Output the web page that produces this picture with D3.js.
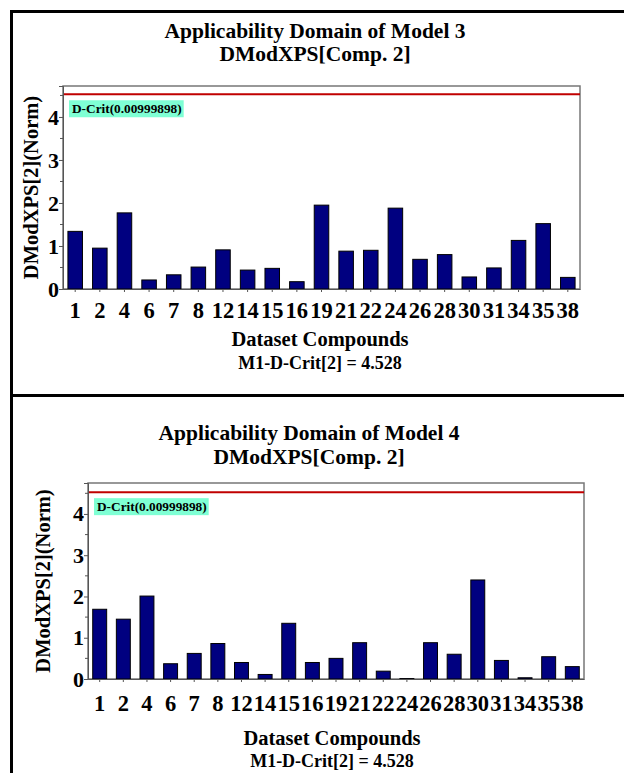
<!DOCTYPE html>
<html><head><meta charset="utf-8">
<script src="https://cdn.jsdelivr.net/npm/d3@7"></script>
<style>body{margin:0;background:#fff}svg{display:block}</style>
</head><body>
<svg id="c" width="624" height="773"></svg>
<script>
const categories = ["1","2","4","6","7","8","12","14","15","16","19","21","22","24","26","28","30","31","34","35","38"];
const model3Values = [1.34,0.95,1.77,0.21,0.33,0.51,0.91,0.44,0.48,0.17,1.95,0.88,0.90,1.88,0.69,0.80,0.28,0.49,1.13,1.52,0.27];
const model4Values = [1.69,1.45,2.01,0.37,0.62,0.86,0.40,0.11,1.35,0.40,0.50,0.88,0.19,0.01,0.88,0.60,2.40,0.45,0.03,0.54,0.30];
const yTicks = [0,1,2,3,4];
const dCrit = 4.528;
const titles = [["Applicability Domain of Model 3","DModXPS[Comp. 2]"],["Applicability Domain of Model 4","DModXPS[Comp. 2]"]];
const critLabel = "D-Crit(0.00999898)";
const xTitle = "Dataset Compounds";
const yTitle = "DModXPS[2](Norm)";
const footer = "M1-D-Crit[2] = 4.528";

const svg = d3.select("#c");
const FONT = "'Liberation Serif','Times New Roman',serif";

// frame
svg.append("line").attr("x1",11).attr("x2",624).attr("y1",11.5).attr("y2",11.5).attr("stroke","#000").attr("stroke-width",3);
svg.append("line").attr("x1",11.5).attr("x2",11.5).attr("y1",10).attr("y2",773).attr("stroke","#000").attr("stroke-width",3);
svg.append("line").attr("x1",11).attr("x2",624).attr("y1",395.5).attr("y2",395.5).attr("stroke","#000").attr("stroke-width",3);

function panel(p){
  const g = svg.append("g");
  g.append("text").attr("x",p.cx).attr("y",p.t1).attr("text-anchor","middle").attr("font-family",FONT).attr("font-weight","bold").attr("font-size",21.5).text(p.titles[0]);
  g.append("text").attr("x",p.cx).attr("y",p.t2).attr("text-anchor","middle").attr("font-family",FONT).attr("font-weight","bold").attr("font-size",21.5).text(p.titles[1]);

  const x = d3.scaleBand().domain(categories).range([p.left,p.right]).paddingInner(0.41).paddingOuter(0.2);
  const y = d3.scaleLinear().domain([0,p.ymax]).range([p.bottom,p.top]);

  g.append("rect").attr("x",p.left).attr("y",p.top).attr("width",p.right-p.left).attr("height",p.bottom-p.top).attr("fill","#fff").attr("stroke","#777").attr("stroke-width",1.5);

  // bars
  g.selectAll("rect.bar").data(p.values).enter().append("rect").attr("class","bar")
    .attr("x",(d,i)=>x(categories[i])).attr("width",x.bandwidth())
    .attr("y",d=>y(d)).attr("height",d=>y(0)-y(d))
    .attr("fill","#000080").attr("stroke","#000").attr("stroke-width",1);

  // crit line
  g.append("line").attr("x1",p.left).attr("x2",p.right).attr("y1",y(dCrit)).attr("y2",y(dCrit)).attr("stroke","#c00000").attr("stroke-width",2);
  const lbl = g.append("g");
  const lt = lbl.append("text").attr("x",p.left+9).attr("y",y(dCrit)+19).attr("font-family",FONT).attr("font-weight","bold").attr("font-size",13.3).text(critLabel);
  const bb = lt.node().getBBox();
  lbl.insert("rect","text").attr("x",bb.x-3).attr("y",y(dCrit)+6).attr("width",bb.width+5).attr("height",17).attr("fill","#7fffd4");

  // y axis
  const ya = d3.axisLeft(y).tickValues(yTicks).tickSize(4).tickFormat(d3.format("d"));
  const yg = g.append("g").attr("transform",`translate(${p.left},0)`).call(ya);
  yg.select(".domain").attr("stroke","#555");
  yg.selectAll(".tick line").attr("stroke","#555");
  yg.selectAll(".tick text").attr("font-family",FONT).attr("font-weight","bold").attr("font-size",22).attr("fill","#000").attr("x",-4);
  const minor = d3.range(0.5,p.ymax,1);
  g.selectAll("line.minor").data(minor).enter().append("line").attr("class","minor")
    .attr("x1",p.left-3).attr("x2",p.left).attr("y1",d=>y(d)).attr("y2",d=>y(d)).attr("stroke","#555");

  // x axis
  const xa = d3.axisBottom(x).tickSize(3).tickSizeOuter(0);
  const xg = g.append("g").attr("transform",`translate(0,${p.bottom})`).call(xa);
  xg.select(".domain").attr("stroke","#555");
  xg.selectAll(".tick line").attr("stroke","#555");
  xg.selectAll(".tick text").attr("font-family",FONT).attr("font-weight","bold").attr("font-size",22.5).attr("fill","#000").attr("dy",0).attr("y",p.xlab-p.bottom);

  g.append("text").attr("transform",`translate(${p.ylx},${(p.top+p.bottom)/2}) rotate(-90)`).attr("text-anchor","middle").attr("font-family",FONT).attr("font-weight","bold").attr("font-size",20.5).text(yTitle);
  g.append("text").attr("x",p.cx2).attr("y",p.xt).attr("text-anchor","middle").attr("font-family",FONT).attr("font-weight","bold").attr("font-size",20.5).text(xTitle);
  g.append("text").attr("x",p.cx2).attr("y",p.ft).attr("text-anchor","middle").attr("font-family",FONT).attr("font-weight","bold").attr("font-size",18).text(footer);
}

panel({titles:titles[0],values:model3Values,cx:315,t1:38,t2:61,left:63,right:580,top:86,bottom:289,ymax:4.72,xlab:318,ylx:38,cx2:320,xt:346,ft:369});
panel({titles:titles[1],values:model4Values,cx:309,t1:440,t2:464,left:88,right:584,top:483,bottom:679,ymax:4.75,xlab:711,ylx:50,cx2:332,xt:745,ft:767});
</script>
</body></html>
